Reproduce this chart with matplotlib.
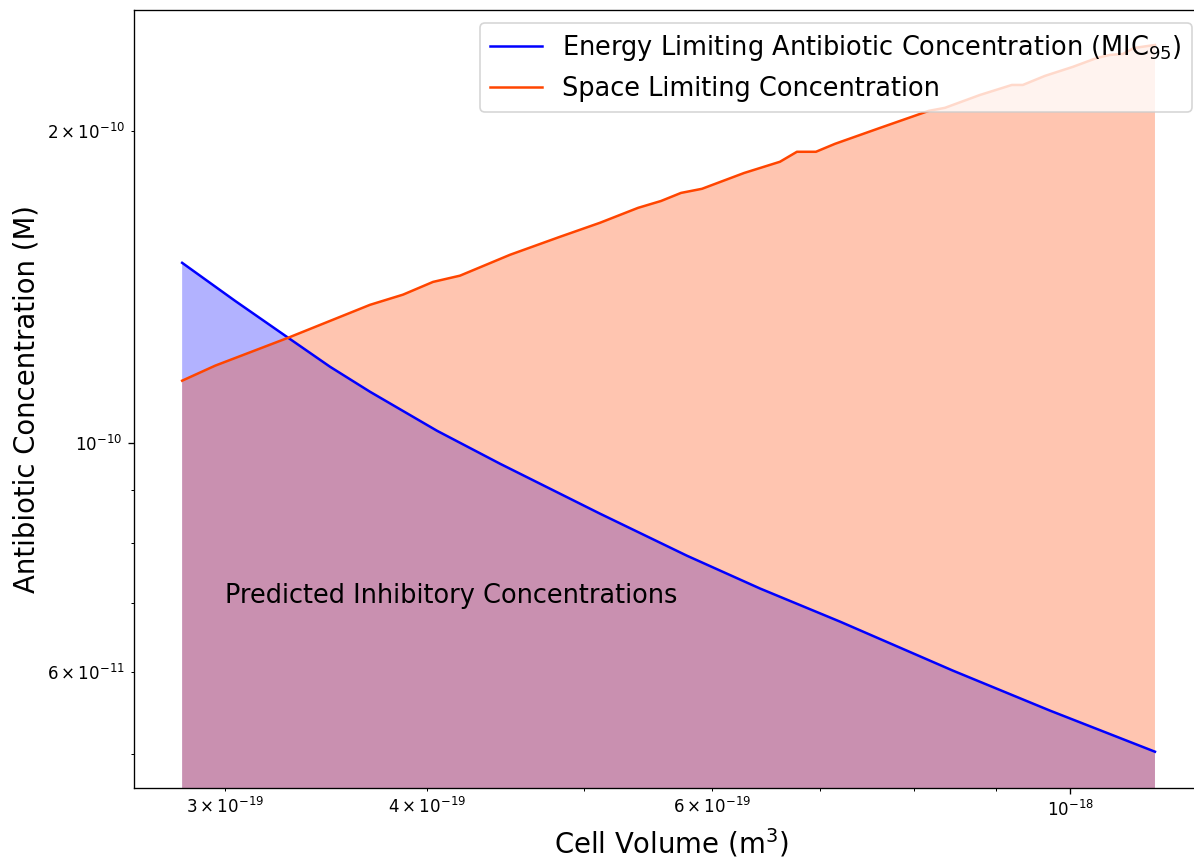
import matplotlib
matplotlib.use('Agg')
import matplotlib.pyplot as plt

# Energy limiting concentration (MIC95) vs cell volume
vol_energy = [2.822e-19, 3.043e-19, 3.282e-19, 3.484e-19, 3.688e-19, 4.057e-19,
              4.438e-19, 5.117e-19, 5.792e-19, 6.427e-19, 7.202e-19, 8.459e-19,
              9.712e-19, 1.128e-18]
mic_energy = [1.492e-10, 1.371e-10, 1.263e-10, 1.184e-10, 1.120e-10, 1.027e-10,
              0.9544e-10, 0.8541e-10, 0.7778e-10, 0.7231e-10, 0.6718e-10, 0.6024e-10,
              0.5512e-10, 0.503e-10]

# Space limiting concentration vs cell volume
vol_space = [2.822e-19, 2.958e-19, 3.282e-19, 3.688e-19, 3.865e-19, 4.034e-19,
             4.192e-19, 4.502e-19, 4.834e-19, 5.117e-19, 5.402e-19, 5.582e-19,
             5.743e-19, 5.917e-19, 6.283e-19, 6.612e-19, 6.774e-19, 6.960e-19,
             7.151e-19, 7.624e-19, 8.174e-19, 8.363e-19, 8.790e-19, 9.200e-19,
             9.345e-19, 9.643e-19, 1.0035e-18, 1.0384e-18, 1.0578e-18, 1.0775e-18,
             1.0946e-18, 1.128e-18]
conc_space = [1.148e-10, 1.187e-10, 1.263e-10, 1.359e-10, 1.390e-10, 1.430e-10,
              1.450e-10, 1.519e-10, 1.581e-10, 1.631e-10, 1.686e-10, 1.712e-10,
              1.743e-10, 1.759e-10, 1.822e-10, 1.868e-10, 1.910e-10, 1.910e-10,
              1.944e-10, 2.014e-10, 2.092e-10, 2.106e-10, 2.167e-10, 2.216e-10,
              2.216e-10, 2.261e-10, 2.307e-10, 2.353e-10, 2.369e-10, 2.374e-10,
              2.406e-10, 2.422e-10]

XLIM = (2.635e-19, 1.2165e-18)
YLIM = (4.64e-11, 2.618e-10)
FLOOR = 1e-11

fig = plt.figure(figsize=(1194 / 120, 858 / 120), dpi=120)
ax = fig.add_axes([134 / 1194, 70 / 858, 1074 / 1194, 778 / 858])

ax.fill_between(vol_energy, mic_energy, FLOOR, color='blue', alpha=0.3, lw=0)
ax.plot(vol_energy, mic_energy, color='blue',
        label='Energy Limiting Antibiotic Concentration (MIC$_{95}$)')
ax.fill_between(vol_space, conc_space, FLOOR, color='orangered', alpha=0.31, lw=0)
ax.plot(vol_space, conc_space, color='orangered',
        label='Space Limiting Concentration')

ax.set_xscale('log')
ax.set_yscale('log')
ax.set_xlim(*XLIM)
ax.set_ylim(*YLIM)

ax.text(3e-19, 7e-11, 'Predicted Inhibitory Concentrations', fontsize=15.4)
ax.set_xlabel('Cell Volume (m$^3$)', fontsize=16.5)
ax.set_ylabel('Antibiotic Concentration (M)', fontsize=16.5)
ax.legend(loc='upper right', fontsize=15.4, borderaxespad=0,
          bbox_to_anchor=(1192 / 1194, 835 / 858), bbox_transform=fig.transFigure)

fig.savefig('out.png', dpi=120)
